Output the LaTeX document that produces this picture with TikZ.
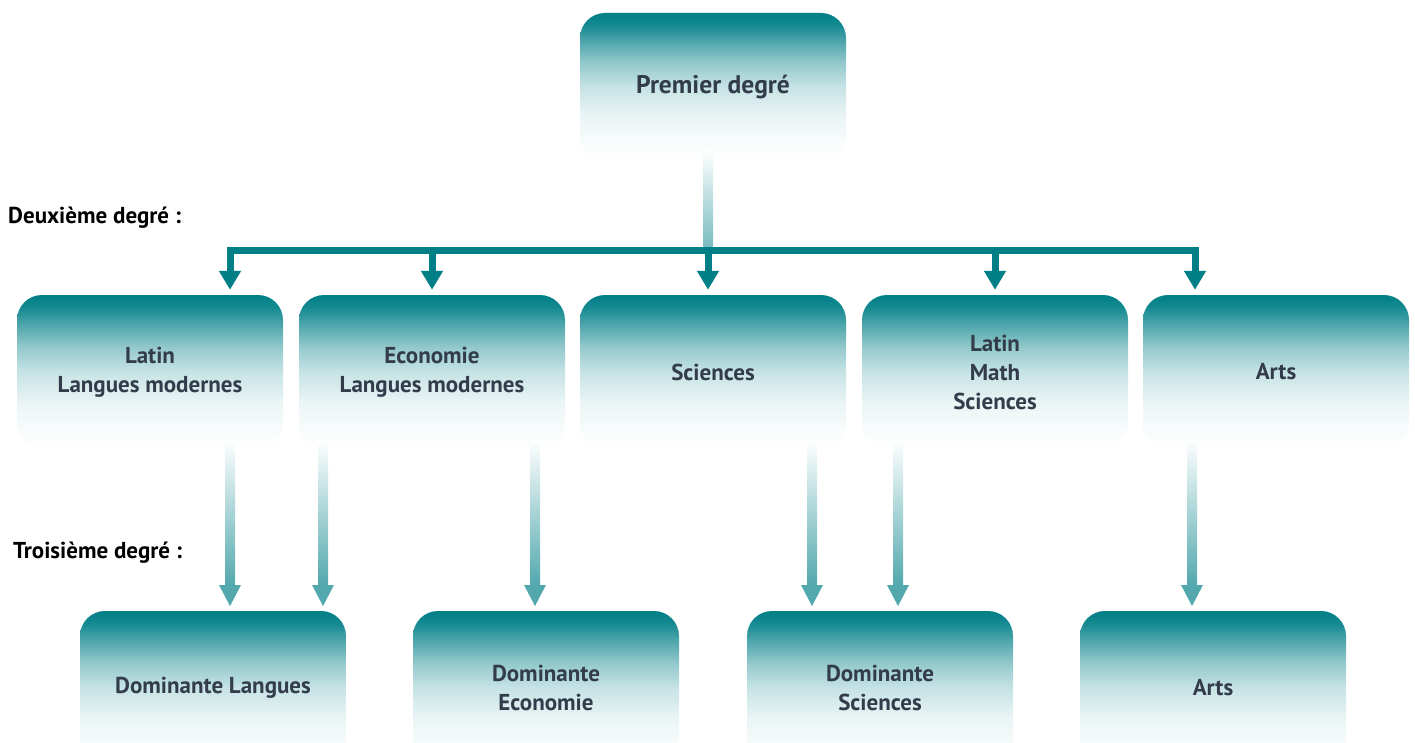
\documentclass[tikz,border=0pt]{standalone}
\usepackage{fontspec}
\setmainfont{PT Sans}
\usetikzlibrary{arrows.meta,calc}
\definecolor{tealc}{RGB}{0,127,135}
\definecolor{txt}{RGB}{50,60,75}
\pgfdeclareverticalshading{boxfade}{100bp}{color(0bp)=(white); color(25bp)=(white); color(30bp)=(tealc!2); color(40bp)=(tealc!8); color(50bp)=(tealc!22); color(58bp)=(tealc!42); color(65bp)=(tealc!68); color(71bp)=(tealc!92); color(75bp)=(tealc); color(100bp)=(tealc)}
\newcommand\fadearr[2]{%
  \shade[top color=white, bottom color=tealc!68] ($(#1)+(-5,0)$) rectangle ($(#2)+(5,-20)$);
  \fill[tealc!68] ($(#2)+(-11,-21)$) -- ($(#2)+(11,-21)$) -- (#2) -- cycle;}
\begin{document}
\begin{tikzpicture}[x=1pt,y=-1pt,
  box/.style={shading=boxfade, rounded corners=25pt, minimum width=266pt, minimum height=154pt, inner sep=0pt, align=center, font=\fontsize{23}{29}\selectfont\bfseries, text=txt},
  lbl/.style={anchor=west, font=\fontsize{23}{26}\selectfont\bfseries, inner sep=0pt, text=black},
  bar/.style={draw=tealc, line width=7pt, line cap=rect},
  downarr/.style={draw=tealc, line width=7pt, -{Triangle[width=21pt,length=19pt]}, shorten >=5pt}]
\useasboundingbox (0,0) rectangle (1415,743);
\begin{scope}
\clip (0,0) rectangle (1415,743);
% boxes
\node[box, minimum height=148pt, font=\fontsize{25.5}{29}\selectfont\bfseries] (top) at (713,87) {Premier degré};
\node[box] (b1) at (150,372) {Latin\\Langues modernes};
\node[box] (b2) at (432,372) {Economie\\Langues modernes};
\node[box] (b3) at (713,372) {Sciences};
\node[box] (b4) at (995,372) {Latin\\Math\\Sciences};
\node[box] (b5) at (1276,372) {Arts};
\node[box] (c1) at (213,688) {Dominante Langues};
\node[box] (c2) at (546,688) {Dominante\\Economie};
\node[box] (c3) at (880,688) {Dominante\\Sciences};
\node[box] (c4) at (1213,688) {Arts};
\end{scope}
% labels
\node[lbl] (l2) at (8,218) {Deuxième degré :};
\node[lbl] (l3) at (13,553) {Troisième degré :};
% top connector
\coordinate (h1) at (230,251);
\coordinate (h2) at (432,251);
\coordinate (h3) at (708,251);
\coordinate (h4) at (995,251);
\coordinate (h5) at (1195,251);
\coordinate (t0) at (708,150);
\shade[top color=white, bottom color=tealc!55] ($(t0)+(-5,0)$) rectangle ($(h3)+(5,0)$);
\draw[bar] (h1) -- (h5);
\foreach \i in {1,...,5} {\draw[downarr] (h\i) -- (h\i |- b1.north);}
% second-to-third connectors
\coordinate (s1) at (230,440); \coordinate (e1) at (230,606);
\coordinate (s2) at (323,440); \coordinate (e2) at (323,606);
\coordinate (s3) at (535,440); \coordinate (e3) at (535,606);
\coordinate (s4) at (812,440); \coordinate (e4) at (812,606);
\coordinate (s5) at (898,440); \coordinate (e5) at (898,606);
\coordinate (s6) at (1192,440); \coordinate (e6) at (1192,606);
\foreach \i in {1,...,6} {\fadearr{s\i}{e\i}}
\end{tikzpicture}
\end{document}
